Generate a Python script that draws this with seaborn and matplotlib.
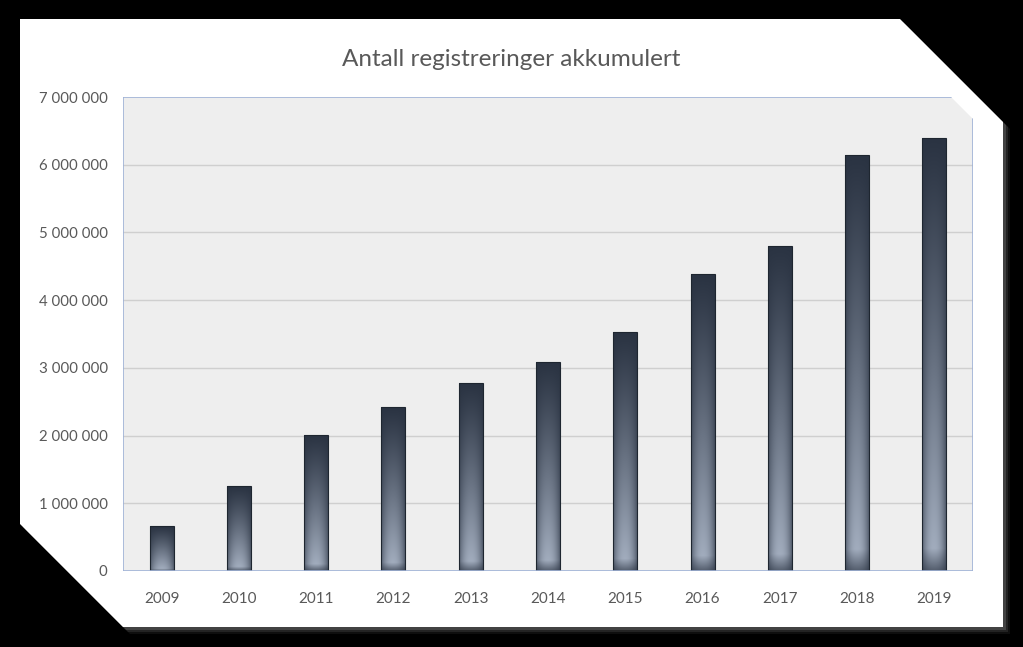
import numpy as np
import pandas as pd
import matplotlib
matplotlib.use("Agg")
import matplotlib.pyplot as plt
from matplotlib.patches import Polygon
from matplotlib.lines import Line2D
from matplotlib.ticker import FuncFormatter, MultipleLocator
import seaborn as sns

years = ["2009", "2010", "2011", "2012", "2013", "2014", "2015", "2016", "2017", "2018", "2019"]
values = [660000, 1255000, 2010000, 2420000, 2780000, 3090000, 3530000, 4380000, 4800000, 6150000, 6400000]
title = "Antall registreringer akkumulert"

sns.set_theme(style="white")
plt.rcParams['font.family'] = ['Lato', 'DejaVu Sans']

W, H = 1023, 647
fig = plt.figure(figsize=(W / 100, H / 100), dpi=100, facecolor="black")

def fxy(pts):
    return [(x / W, 1 - y / H) for x, y in pts]

card = [(20, 19), (900, 19), (1003, 122), (1003, 627), (123, 627), (20, 524)]
# soft shadow
for off, a in [(7, 0.08), (5, 0.12), (3, 0.2)]:
    sh = [(x + off, y + off) for x, y in card]
    fig.patches.append(Polygon(fxy(sh), closed=True, transform=fig.transFigure,
                               facecolor="#bfbfbf", edgecolor="none", alpha=a, zorder=0))
fig.patches.append(Polygon(fxy(card), closed=True, transform=fig.transFigure,
                           facecolor="white", edgecolor="none", zorder=1))

left, right, top, bottom = 123, 973, 97, 571
ax = fig.add_axes([left / W, 1 - bottom / H, (right - left) / W, (bottom - top) / H])
ax.set_facecolor("none")
ax.set_zorder(2)

df = pd.DataFrame({"year": years, "value": values})
sns.barplot(data=df, x="year", y="value", ax=ax, width=0.31, color="#3a4656",
            edgecolor="#1e2630", linewidth=0.8, zorder=3)

ax.set_xlim(-0.5, 10.5)
ax.set_ylim(0, 7000000)
ax.yaxis.set_major_locator(MultipleLocator(1000000))
ax.yaxis.set_major_formatter(FuncFormatter(lambda v, p: f"{int(v):,}".replace(",", " ")))

# plot-area background with cut corner
cx = 22 / (right - left)
cy = 22 / (bottom - top)
bg = Polygon([(0, 0), (1, 0), (1, 1 - cy), (1 - cx, 1), (0, 1)], closed=True,
             transform=ax.transAxes, facecolor="#eeeeee", edgecolor="none", zorder=0)
ax.add_patch(bg)
for v in range(1000000, 7000000, 1000000):
    ax.axhline(v, color="#cfcfcf", linewidth=1.0, zorder=1)

for s in ax.spines.values():
    s.set_visible(False)
spc = "#9fb2d6"
ax.add_line(Line2D([0, 0], [0, 1], transform=ax.transAxes, color=spc, lw=1.2, zorder=5))
ax.add_line(Line2D([0, 1], [0, 0], transform=ax.transAxes, color=spc, lw=1.2, zorder=5))
ax.add_line(Line2D([0, 1 - cx], [1, 1], transform=ax.transAxes, color=spc, lw=1.2, zorder=5))
ax.add_line(Line2D([1, 1], [0, 1 - cy], transform=ax.transAxes, color=spc, lw=1.2, zorder=5))

# gradient fill for bars
ny, nx = 200, 60
t = np.linspace(0, 1, ny)[:, None]
xx = np.linspace(0, 1, nx)[None, :]
vprof = np.clip(t, 0, 1) ** 1.1
vprof = np.where(t > 0.95, vprof * (1 - (t - 0.95) / 0.05 * 0.65), vprof)
hprof = 1 - 0.6 * (np.abs(xx - 0.5) * 2) ** 2.2
light = vprof * hprof
dark = np.array([0x2a, 0x33, 0x42]) / 255
lite = np.array([0xa8, 0xb3, 0xc4]) / 255
img = dark[None, None, :] + (lite - dark)[None, None, :] * light[:, :, None]

for p in ax.patches:
    if p is bg:
        continue
    x0 = p.get_x(); w = p.get_width(); h = p.get_height()
    if h <= 0:
        continue
    im = ax.imshow(img, extent=[x0, x0 + w, 0, h], origin="upper", aspect="auto",
                   zorder=3.5, interpolation="bilinear")
    im.set_clip_path(p)
    p.set_facecolor("none")
    p.set_zorder(4)

ax.set_xlabel("")
ax.set_ylabel("")
ax.tick_params(axis="y", length=0, pad=11, labelsize=10.8, labelcolor="#595959")
ax.tick_params(axis="x", length=0, pad=15, labelsize=11, labelcolor="#595959")
ax.grid(False)

fig.text(511 / W, 1 - 60 / H, title, ha="center", va="center", fontsize=17.5,
         color="#595959", zorder=5)

fig.savefig("out.png", dpi=100, facecolor="black")
